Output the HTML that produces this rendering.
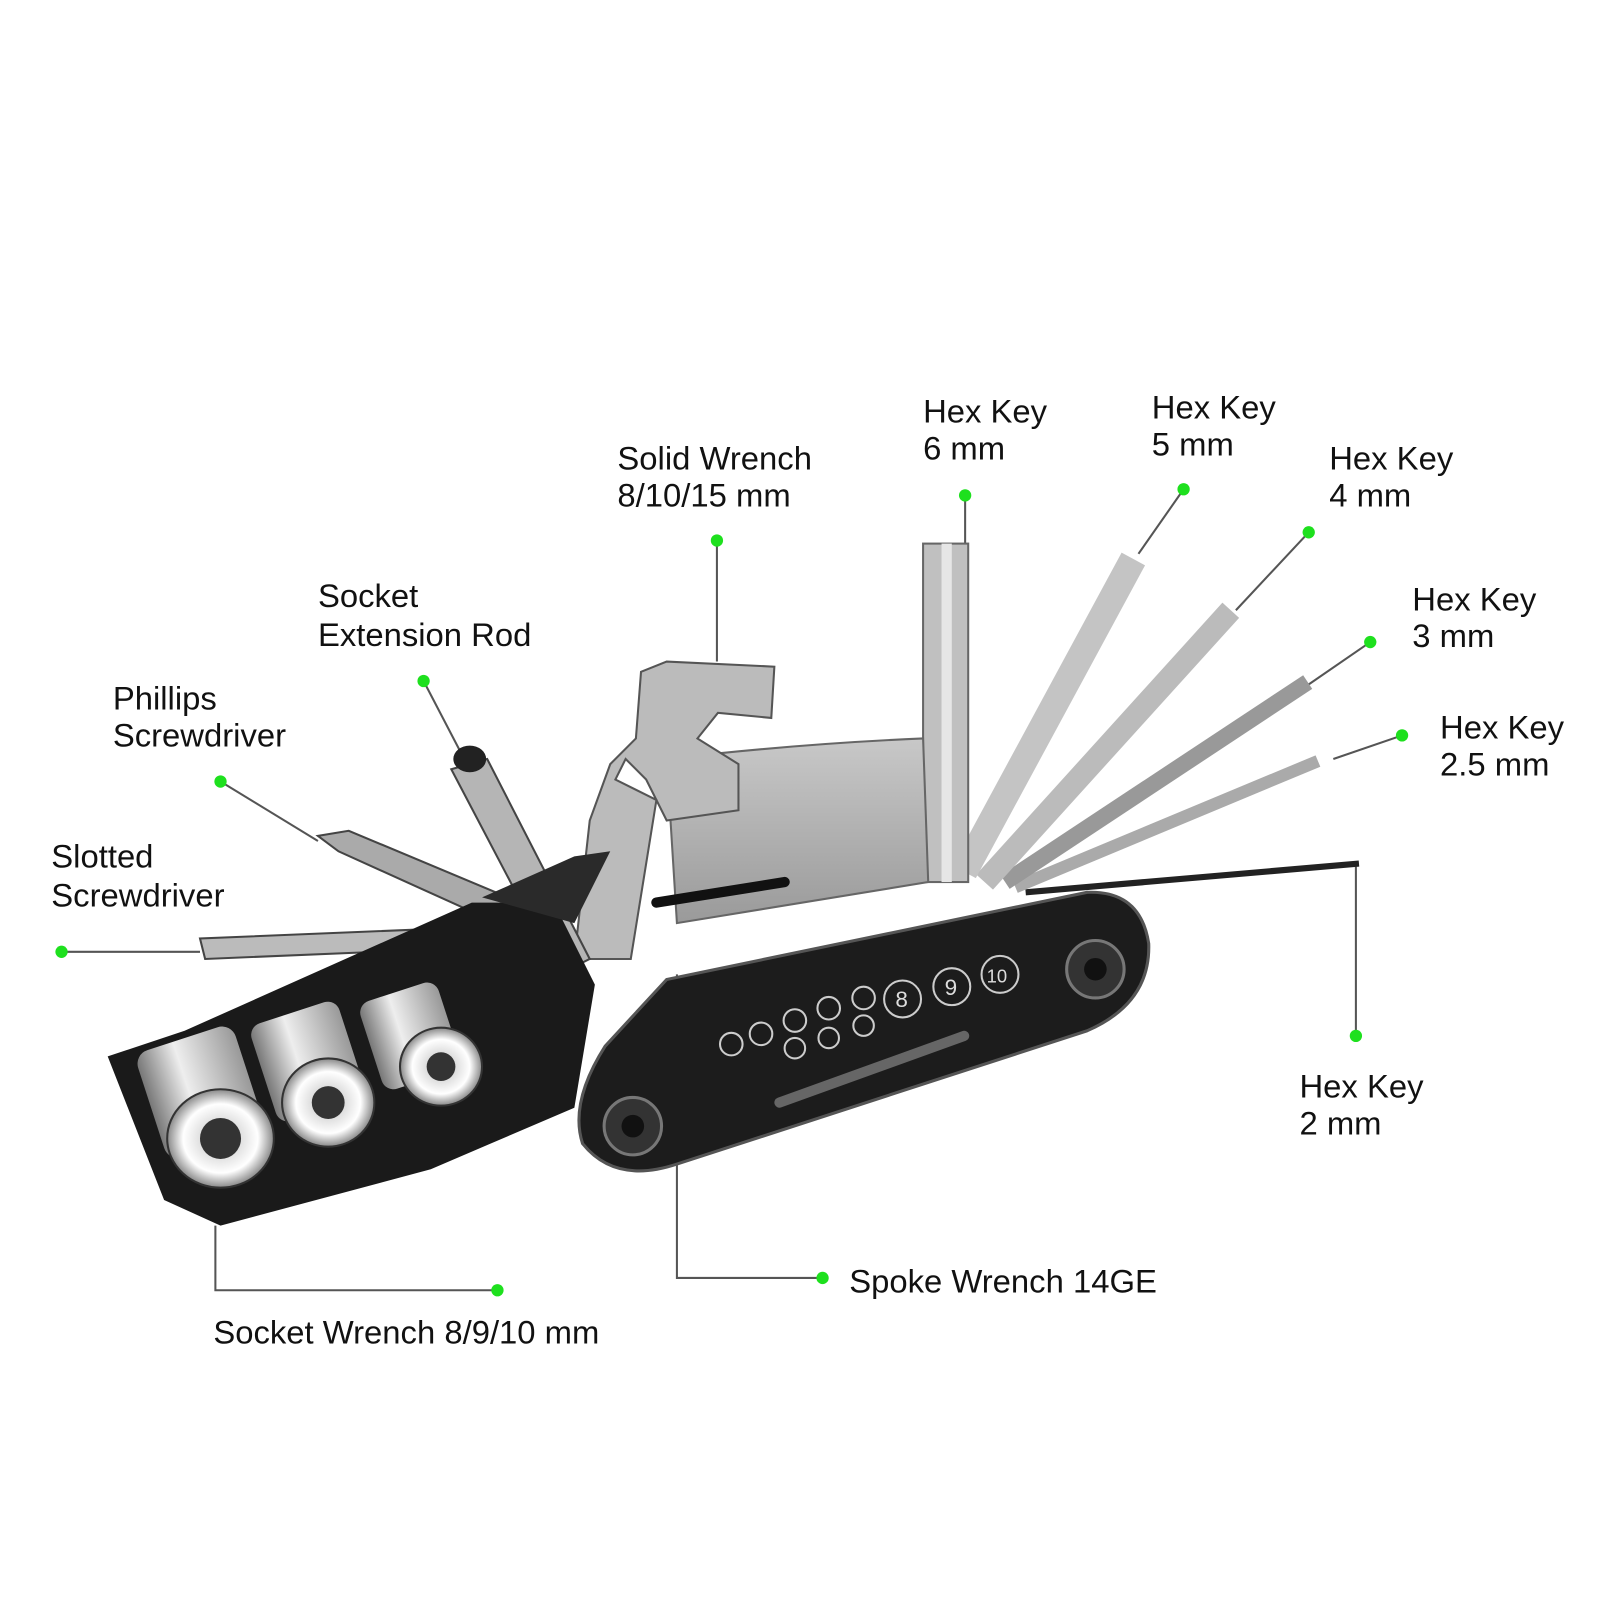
<!DOCTYPE html>
<html><head><meta charset="utf-8">
<style>
html,body{margin:0;padding:0;background:#fff;width:1600px;height:1600px;overflow:hidden}
svg{display:block}
text{font-family:"Liberation Sans",sans-serif;font-size:32px;fill:#111}
</style></head><body>
<svg width="1600" height="1600" viewBox="0 0 1560 1560" xmlns="http://www.w3.org/2000/svg">
<defs>
<linearGradient id="steel" x1="0" y1="0" x2="1" y2="0">
<stop offset="0" stop-color="#777"/><stop offset="0.4" stop-color="#eee"/><stop offset="1" stop-color="#999"/>
</linearGradient>
<linearGradient id="plate" x1="0" y1="0" x2="0" y2="1">
<stop offset="0" stop-color="#c8c8c8"/><stop offset="1" stop-color="#9a9a9a"/>
</linearGradient>
<radialGradient id="sock" cx="0.5" cy="0.5" r="0.5">
<stop offset="0" stop-color="#555"/><stop offset="0.35" stop-color="#ddd"/><stop offset="0.7" stop-color="#fff"/><stop offset="1" stop-color="#888"/>
</radialGradient>
</defs>

<g stroke="#555" stroke-width="2" fill="none">
<path d="M941 483 V530"/>
<path d="M1154 477 L1110 540"/>
<path d="M1276 519 L1205 595"/>
<path d="M1336 626 L1275 668"/>
<path d="M1367 717 L1300 740"/>
<path d="M1322 1010 V845"/>
<path d="M699 527 V645"/>
<path d="M413 664 L450 735"/>
<path d="M215 762 L310 820"/>
<path d="M60 928 H195"/>
<path d="M485 1258 H210 V1195"/>
<path d="M802 1246 H660 V950"/>
</g>

<g stroke-linecap="butt">
<line x1="1325" y1="842" x2="1000" y2="870" stroke="#222" stroke-width="6"/>
<line x1="1285" y1="742" x2="990" y2="865" stroke="#aaa" stroke-width="12"/>
<line x1="1275" y1="665" x2="980" y2="860" stroke="#999" stroke-width="16"/>
<line x1="1200" y1="595" x2="960" y2="860" stroke="#bbb" stroke-width="22"/>
<line x1="1105" y1="545" x2="940" y2="850" stroke="#c4c4c4" stroke-width="26"/>
<rect x="900" y="530" width="44" height="330" fill="#c0c0c0" stroke="#666" stroke-width="2"/>
<rect x="918" y="530" width="10" height="330" fill="#e6e6e6"/>
</g>

<path d="M650 740 Q780 725 900 720 L905 860 L660 900 Z" fill="url(#plate)" stroke="#666" stroke-width="2"/>
<path d="M625 655 L650 645 L755 650 L752 700 L700 695 L680 720 L720 745 L720 790 L650 800 L630 760 L610 740 L600 760 L640 780 L615 935 L560 935 L575 800 L595 745 L620 720 Z" fill="#bbb" stroke="#555" stroke-width="2"/>
<line x1="640" y1="880" x2="765" y2="860" stroke="#111" stroke-width="10" stroke-linecap="round"/>

<path d="M195 915 L200 935 L440 925 L540 935 L540 905 L440 905 Z" fill="#bbb" stroke="#444" stroke-width="2"/>
<path d="M310 815 L330 830 L540 925 L555 900 L340 810 Z" fill="#aaa" stroke="#444" stroke-width="2"/>
<path d="M440 750 L475 740 L575 935 L545 950 Z" fill="#b5b5b5" stroke="#444" stroke-width="2"/>
<ellipse cx="458" cy="740" rx="16" ry="13" fill="#222"/>

<path d="M105 1030 L180 1005 L460 880 L540 880 L580 960 L560 1080 L420 1140 L215 1195 L160 1170 Z" fill="#1a1a1a"/>
<path d="M470 875 L560 835 L595 830 L560 900 Z" fill="#2a2a2a"/>
<g>
<rect x="145" y="1010" width="100" height="110" rx="14" fill="url(#steel)" transform="rotate(-18 195 1065)"/>
<ellipse cx="215" cy="1110" rx="52" ry="48" fill="url(#sock)" stroke="#333" stroke-width="2"/>
<circle cx="215" cy="1110" r="20" fill="#333"/>
<rect x="255" y="985" width="90" height="100" rx="12" fill="url(#steel)" transform="rotate(-18 300 1035)"/>
<ellipse cx="320" cy="1075" rx="45" ry="43" fill="url(#sock)" stroke="#333" stroke-width="2"/>
<circle cx="320" cy="1075" r="16" fill="#333"/>
<rect x="360" y="965" width="80" height="90" rx="12" fill="url(#steel)" transform="rotate(-18 400 1010)"/>
<ellipse cx="430" cy="1040" rx="40" ry="38" fill="url(#sock)" stroke="#333" stroke-width="2"/>
<circle cx="430" cy="1040" r="14" fill="#333"/>
</g>

<path d="M590 1020 Q555 1075 568 1115 Q600 1155 660 1135 L1060 1005 Q1122 978 1120 920 Q1112 868 1060 870 L650 955 Z" fill="#1c1c1c" stroke="#555" stroke-width="3"/>
<circle cx="617" cy="1098" r="28" fill="#333" stroke="#777" stroke-width="3"/>
<circle cx="617" cy="1098" r="11" fill="#111"/>
<circle cx="1068" cy="945" r="28" fill="#333" stroke="#777" stroke-width="3"/>
<circle cx="1068" cy="945" r="11" fill="#111"/>
<line x1="760" y1="1075" x2="940" y2="1010" stroke="#666" stroke-width="10" stroke-linecap="round"/>
<g fill="none" stroke="#ccc" stroke-width="2">
<circle cx="713" cy="1018" r="11"/><circle cx="742" cy="1008" r="11"/><circle cx="775" cy="995" r="11"/>
<circle cx="808" cy="983" r="11"/><circle cx="842" cy="973" r="11"/>
<circle cx="775" cy="1022" r="10"/><circle cx="808" cy="1012" r="10"/><circle cx="842" cy="1000" r="10"/>
<circle cx="880" cy="974" r="18"/><circle cx="928" cy="962" r="18"/><circle cx="975" cy="950" r="18"/>
</g>
<text x="873" y="982" style="font-size:22px;fill:#ddd">8</text>
<text x="921" y="970" style="font-size:22px;fill:#ddd">9</text>
<text x="962" y="958" style="font-size:18px;fill:#ddd">10</text>

<g fill="#1ee01e">
<circle cx="941" cy="483" r="6"/><circle cx="1154" cy="477" r="6"/><circle cx="1276" cy="519" r="6"/>
<circle cx="1336" cy="626" r="6"/><circle cx="1367" cy="717" r="6"/><circle cx="1322" cy="1010" r="6"/>
<circle cx="699" cy="527" r="6"/><circle cx="413" cy="664" r="6"/><circle cx="215" cy="762" r="6"/>
<circle cx="60" cy="928" r="6"/><circle cx="485" cy="1258" r="6"/><circle cx="802" cy="1246" r="6"/>
</g>

<text x="900" y="412">Hex Key</text><text x="900" y="448">6 mm</text>
<text x="1123" y="408">Hex Key</text><text x="1123" y="444">5 mm</text>
<text x="1296" y="458">Hex Key</text><text x="1296" y="494">4 mm</text>
<text x="1377" y="595">Hex Key</text><text x="1377" y="631">3 mm</text>
<text x="1404" y="720">Hex Key</text><text x="1404" y="756">2.5 mm</text>
<text x="1267" y="1070">Hex Key</text><text x="1267" y="1106">2 mm</text>
<text x="602" y="458">Solid Wrench</text><text x="602" y="494">8/10/15 mm</text>
<text x="310" y="592">Socket</text><text x="310" y="630">Extension Rod</text>
<text x="110" y="692">Phillips</text><text x="110" y="728">Screwdriver</text>
<text x="50" y="846">Slotted</text><text x="50" y="884">Screwdriver</text>
<text x="208" y="1310">Socket Wrench 8/9/10 mm</text>
<text x="828" y="1260">Spoke Wrench 14GE</text>
</svg>
</body></html>
